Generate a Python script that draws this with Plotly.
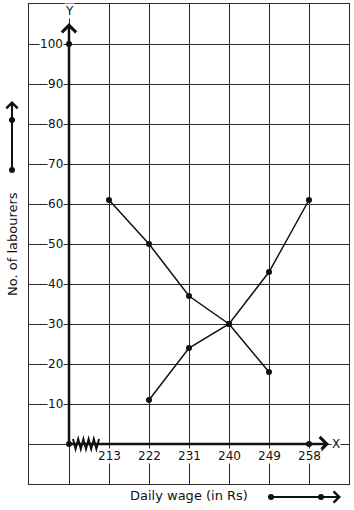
import plotly.graph_objects as go

# ---- data ----
wages = [213, 222, 231, 240, 249, 258]
more_than_x = [213, 222, 231, 240, 249]
more_than_y = [61, 50, 37, 30, 18]
less_than_x = [222, 231, 240, 249, 258]
less_than_y = [11, 24, 30, 43, 61]
axis_points_x = [204, 204, 258]
axis_points_y = [0, 100, 0]
y_ticks = [10, 20, 30, 40, 50, 60, 70, 80, 90, 100]
x_tick_labels = [str(w) for w in wages]

FONT = "DejaVu Sans"
INK = "#111111"
GRID = "#2a2a2a"

# layout geometry (plot area 29..349 x 4..484 px)
X0, X1 = 195, 267
Y0, Y1 = -10, 110
L, R, T, B = 29, 5, 4, 26
W, H = 354, 510
PW, PH = W - L - R, H - T - B


def px2paper_x(px):
    return (px - L) / PW


def px2paper_y(py):
    return (H - B - py) / PH


fig = go.Figure()

line_style = dict(color=INK, width=1.5)
marker_style = dict(color=INK, size=6)
fig.add_trace(go.Scatter(x=more_than_x, y=more_than_y, mode="lines+markers",
                         line=line_style, marker=marker_style, showlegend=False))
fig.add_trace(go.Scatter(x=less_than_x, y=less_than_y, mode="lines+markers",
                         line=line_style, marker=marker_style, showlegend=False))

shapes = []
annotations = []

# thick axes with arrow heads
x_tip = X0 + (329 - L) / 40 * 9
y_tip = Y1 - (23 - T) / 4
annotations.append(dict(x=x_tip, y=0, ax=204, ay=0, axref="x", ayref="y",
                        xref="x", yref="y", text="", showarrow=True,
                        arrowhead=4, arrowsize=1.1, arrowwidth=2.5,
                        arrowcolor=INK, standoff=0))
annotations.append(dict(x=204, y=y_tip, ax=204, ay=0, axref="x", ayref="y",
                        xref="x", yref="y", text="", showarrow=True,
                        arrowhead=4, arrowsize=1.1, arrowwidth=2.5,
                        arrowcolor=INK, standoff=0))

# axis-break zigzag
zx0 = X0 + (73 - L) / 40 * 9
zx1 = X0 + (99 - L) / 40 * 9
n = 10
amp = 1.25
pts = []
for i in range(n + 1):
    xx = zx0 + (zx1 - zx0) * i / n
    yy = amp if i % 2 == 0 else -amp
    pts.append(f"{xx:.3f},{yy:.3f}")
shapes.append(dict(type="path", xref="x", yref="y",
                   path="M" + " L".join(pts),
                   line=dict(color=INK, width=2)))

fig.add_trace(go.Scatter(x=axis_points_x, y=axis_points_y, mode="markers",
                         marker=marker_style, showlegend=False, cliponaxis=False))

# y tick labels (white background over the grid line)
for v in y_ticks:
    annotations.append(dict(x=204, y=v, xref="x", yref="y", text=str(v),
                            showarrow=False, xanchor="right", yanchor="middle",
                            xshift=-5, bgcolor="white", borderpad=0,
                            font=dict(family=FONT, size=12, color=INK)))
# x tick labels
for w, lab in zip(wages, x_tick_labels):
    annotations.append(dict(x=w, y=0, xref="x", yref="y", text=lab,
                            showarrow=False, xanchor="center", yanchor="middle",
                            yshift=-12, bgcolor="white", borderpad=0,
                            font=dict(family=FONT, size=12, color=INK)))

# axis letters
annotations.append(dict(x=204, y=Y1 - (11 - T) / 4, xref="x", yref="y", text="Y",
                        showarrow=False, xanchor="center", yanchor="middle",
                        bgcolor="white", borderpad=0,
                        font=dict(family=FONT, size=12, color=INK)))
annotations.append(dict(x=X0 + (336 - L) / 40 * 9, y=0, xref="x", yref="y", text="X",
                        showarrow=False, xanchor="center", yanchor="middle",
                        bgcolor="white", borderpad=0,
                        font=dict(family=FONT, size=12, color=INK)))

# axis titles
annotations.append(dict(x=px2paper_x(12), y=px2paper_y(244), xref="paper", yref="paper",
                        text="No. of labourers", textangle=-90, showarrow=False,
                        xanchor="center", yanchor="middle",
                        font=dict(family=FONT, size=13, color=INK)))
annotations.append(dict(x=px2paper_x(189), y=px2paper_y(496), xref="paper", yref="paper",
                        text="Daily wage (in Rs)", showarrow=False,
                        xanchor="center", yanchor="middle",
                        font=dict(family=FONT, size=13, color=INK)))

# direction arrows beside titles
annotations.append(dict(x=px2paper_x(12), y=px2paper_y(101), xref="paper", yref="paper",
                        ax=0, ay=69, text="", showarrow=True, arrowhead=4,
                        arrowsize=1.1, arrowwidth=2, arrowcolor=INK, standoff=0))
annotations.append(dict(x=px2paper_x(341), y=px2paper_y(497), xref="paper", yref="paper",
                        ax=-70, ay=0, text="", showarrow=True, arrowhead=4,
                        arrowsize=1.1, arrowwidth=2, arrowcolor=INK, standoff=0))
for (cx, cy) in [(12, 170), (12, 120), (271, 497), (321, 497)]:
    shapes.append(dict(type="circle", xref="paper", yref="paper",
                       xsizemode="pixel", ysizemode="pixel",
                       xanchor=px2paper_x(cx), yanchor=px2paper_y(cy),
                       x0=-3, x1=3, y0=-3, y1=3,
                       fillcolor=INK, line=dict(width=0)))

axis_common = dict(showgrid=True, gridcolor=GRID, gridwidth=1, zeroline=False,
                   showticklabels=False, ticks="", showline=True, mirror=True,
                   linecolor=GRID, linewidth=1, fixedrange=True)

fig.update_layout(
    width=W, height=H,
    margin=dict(l=L, r=R, t=T, b=B, pad=0),
    paper_bgcolor="white", plot_bgcolor="white",
    xaxis=dict(range=[X0, X1], tick0=X0, dtick=9, **axis_common),
    yaxis=dict(range=[Y0, Y1], tick0=Y0, dtick=10, **axis_common),
    shapes=shapes, annotations=annotations,
    showlegend=False,
)

fig.write_html("out.html")
